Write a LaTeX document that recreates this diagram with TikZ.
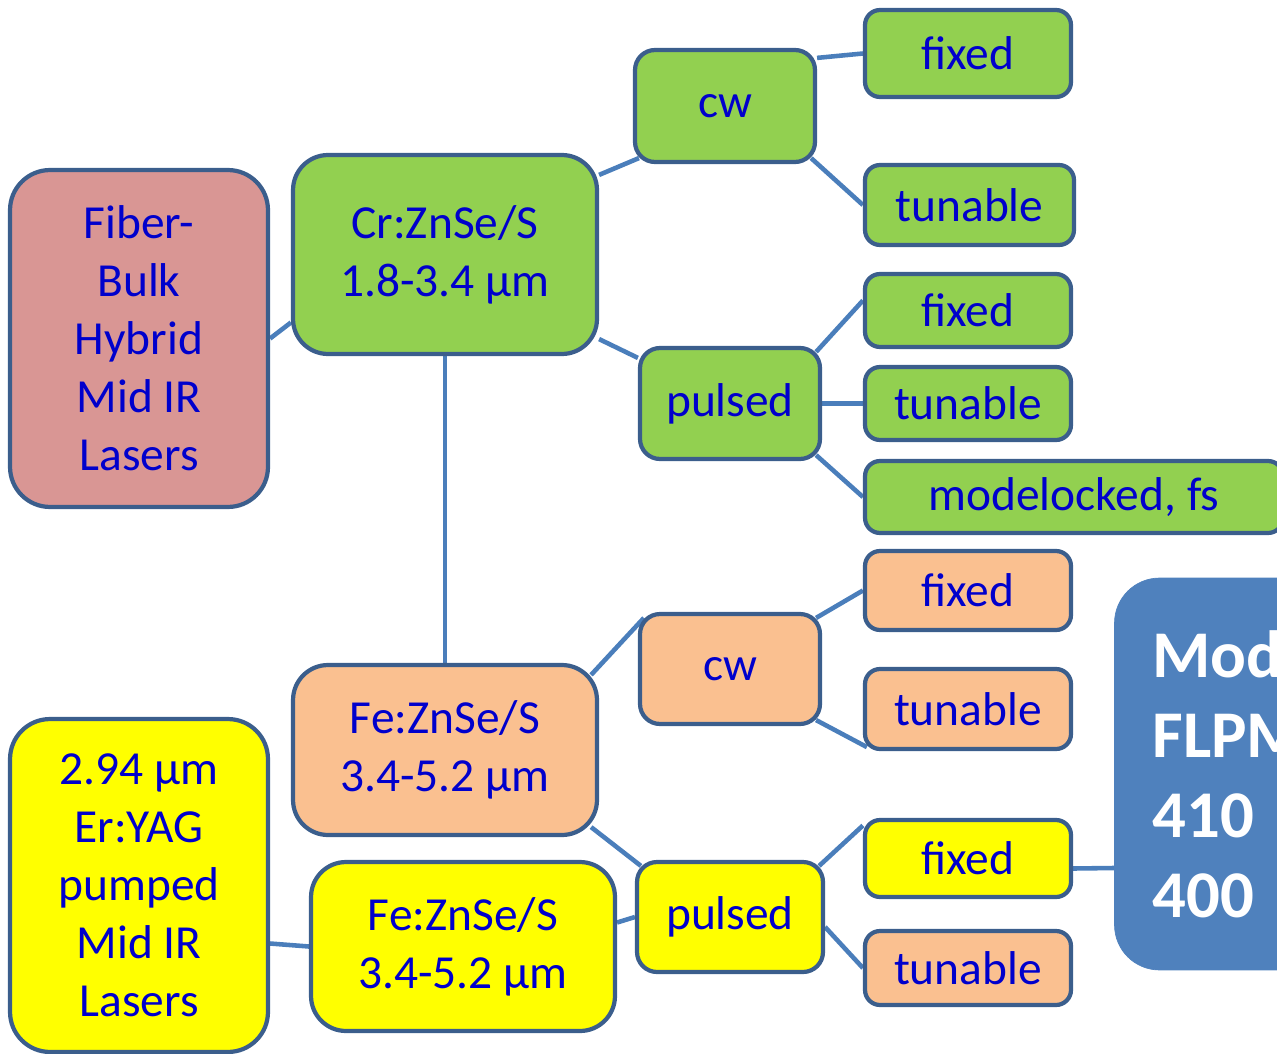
\documentclass[tikz,border=0pt]{standalone}
\usepackage{fontspec}
\setmainfont{Carlito}
\usetikzlibrary{backgrounds}
\definecolor{edgeblue}{HTML}{4A7EBB}
\definecolor{rimblue}{HTML}{3B5E8C}
\definecolor{txtblue}{HTML}{0000CC}
\definecolor{crgreen}{HTML}{92D050}
\definecolor{feorange}{HTML}{FAC090}
\definecolor{hybpink}{HTML}{D99694}
\definecolor{eryellow}{HTML}{FFFF00}
\definecolor{modblue}{HTML}{4F81BD}
\tikzstyle{box}=[rectangle, draw=rimblue, line width=2.4pt, text=txtblue, align=center, inner sep=0pt, font=\fontsize{27}{33}\selectfont]
\tikzstyle{leaf}=[box, rounded corners=0.3cm, minimum width=4.12cm]
\tikzstyle{mode}=[box, rounded corners=0.4cm, minimum width=3.6cm, minimum height=2.22cm]
\tikzstyle{crystal}=[box, rounded corners=0.7cm, minimum width=6.08cm]
\tikzstyle{family}=[box, rounded corners=0.8cm, minimum width=5.16cm]
\tikzstyle{link}=[draw=edgeblue, line width=2.6pt]

\begin{document}
\begin{tikzpicture}[x=0.02cm, y=-0.02cm]
  \useasboundingbox (0,0) rectangle (1277,1054);
  \clip (0,0) rectangle (1277,1054);
  % families
  \node[family, fill=hybpink, minimum height=6.74cm] (hybrid) at (139,338.5) {Fiber-\\Bulk\\Hybrid\\Mid IR\\Lasers};
  \node[family, fill=eryellow, minimum height=6.66cm] (eryag) at (139,885.5) {2.94 μm\\Er:YAG\\pumped\\Mid IR\\Lasers};
  % crystals
  \node[crystal, fill=crgreen, minimum height=3.98cm] (crzns) at (445,254.5) {Cr:ZnSe/S\\1.8-3.4 μm};
  \node[crystal, fill=feorange, minimum height=3.4cm] (fezns) at (445,750) {Fe:ZnSe/S\\3.4-5.2 μm};
  \node[crystal, fill=eryellow, minimum height=3.38cm] (feznsb) at (463,946.5) {Fe:ZnSe/S\\3.4-5.2 μm};
  % modes
  \node[mode, fill=crgreen, minimum height=2.24cm] (crcw) at (725,106) {cw};
  \node[mode, fill=crgreen] (crpulsed) at (730,403.5) {pulsed};
  \node[mode, fill=feorange, minimum height=2.2cm] (fecw) at (730,669) {cw};
  \node[mode, fill=eryellow, minimum width=3.72cm, minimum height=2.2cm] (fepulsed) at (730,917) {pulsed};
  % leaves
  \node[leaf, fill=crgreen, minimum height=1.74cm] (crcwfix) at (968,53.5) {fixed};
  \node[leaf, fill=crgreen, minimum width=4.18cm, minimum height=1.6cm] (crcwtun) at (969.5,205) {tunable};
  \node[leaf, fill=crgreen, minimum height=1.46cm] (crpfix) at (968,310.5) {fixed};
  \node[leaf, fill=crgreen, minimum height=1.46cm] (crptun) at (968,403.5) {tunable};
  \node[leaf, fill=crgreen, minimum width=8.36cm, minimum height=1.44cm] (crpml) at (1074,497) {modelocked, fs};
  \node[leaf, fill=feorange, minimum height=1.58cm] (fecwfix) at (968,590.5) {fixed};
  \node[leaf, fill=feorange, minimum height=1.6cm] (fecwtun) at (968,709) {tunable};
  \node[leaf, fill=eryellow, minimum height=1.54cm] (fepfix) at (968,858.5) {fixed};
  \node[leaf, fill=feorange, minimum height=1.48cm] (feptun) at (968,968) {tunable};
  % product
  \node[rectangle, rounded corners=0.9cm, fill=modblue, draw=modblue, minimum width=5.7cm, minimum height=7.84cm] (flpm) at (1257,774) {};
  \node[anchor=west, text=white, align=left, inner sep=0pt, font=\fontsize{38}{45.5}\bfseries\selectfont] (flpmtext) at (1152,774) {Mod\\FLPM\\410\\400};

  \begin{scope}[on background layer]
    \draw[link] (hybrid.east) -- ([shift={(0,68)}]crzns.west);
    \draw[link] ([shift={(0,22)}]crzns.north east) -- ([shift={(6,-6)}]crcw.south west);
    \draw[link] ([shift={(0,10)}]crcw.north east) -- (crcwfix.west);
    \draw[link] ([shift={(-6,-6)}]crcw.south east) -- (crcwtun.west);
    \draw[link] ([shift={(0,-17)}]crzns.south east) -- ([shift={(0,12)}]crpulsed.north west);
    \draw[link] ([shift={(-6,6)}]crpulsed.north east) -- ([shift={(0,-10)}]crpfix.west);
    \draw[link] (crpulsed.east) -- (crptun.west);
    \draw[link] ([shift={(-6,-6)}]crpulsed.south east) -- (crpml.west);
    \draw[link] (crzns.south) -- (fezns.north);
    \draw[link] ([shift={(-8,12)}]fezns.north east) -- ([shift={(6,6)}]fecw.north west);
    \draw[link] ([shift={(-6,6)}]fecw.north east) -- (fecwfix.west);
    \draw[link] ([shift={(-6,-6)}]fecw.south east) -- ([shift={(4,-4)}]fecwtun.south west);
    \draw[link] ([shift={(-8,-10)}]fezns.south east) -- ([shift={(6,6)}]fepulsed.north west);
    \draw[link] ([shift={(0,-24)}]feznsb.east) -- (fepulsed.west);
    \draw[link] ([shift={(-6,6)}]fepulsed.north east) -- ([shift={(0,-33)}]fepfix.west);
    \draw[link] ([shift={(0,10)}]fepulsed.east) -- (feptun.west);
    \draw[link] ([shift={(0,10)}]fepfix.east) -- ([shift={(0,94)}]flpm.west);
    \draw[link] ([shift={(0,58)}]eryag.east) -- (feznsb.west);
  \end{scope}
\end{tikzpicture}
\end{document}
